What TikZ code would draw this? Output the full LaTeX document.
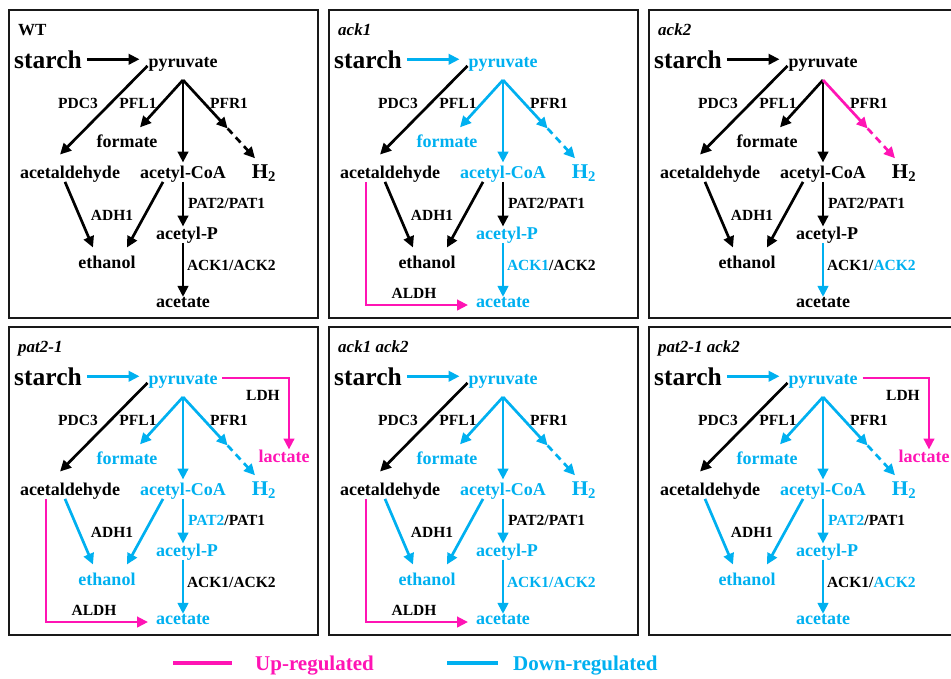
\documentclass[tikz,border=0pt]{standalone}
\usepackage{fontspec}
\setmainfont{Liberation Serif}
\usetikzlibrary{arrows.meta}
\definecolor{upc}{RGB}{255,20,180}
\definecolor{dnc}{RGB}{0,176,240}

% one strain panel: #1 prefix, #2 title, #3 main colour, #4 PFR1 colour,
% #5 ethanol side colour, #6 ACK colour, #7 PAT label, #8 ACK label
\newcommand{\pathway}[8]{%
    \draw[panelbox] (1,0) rectangle (310,308);
    \node[strain] (#1name) at (10,25) {#2};
    % Define nodes
    \node[met, font=\fontsize{25.5}{28}\selectfont\bfseries] (#1st) at (40,58) {starch};
    \node[met, color=#3] (#1pyr) at (175,57) {pyruvate};
    \coordinate (#1br) at (175,70);
    \node[met, color=#3] (#1for) at (119,137) {formate};
    \node[met] (#1ald) at (62,168) {acetaldehyde};
    \node[met, color=#3] (#1acoa) at (175,168) {acetyl-CoA};
    \node[met, color=#3, font=\fontsize{21}{23}\selectfont\bfseries] (#1hy) at (256,168) {H\textsubscript{2}};
    \node[met, color=#3] (#1acp) at (179,229) {acetyl-P};
    \node[met, color=#5] (#1eth) at (99,258) {ethanol};
    \node[met, color=#3] (#1ace) at (175,297) {acetate};
    \node[enz] (#1pdc) at (70,98) {PDC3};
    \node[enz] (#1pfl) at (130,98) {PFL1};
    \node[enz] (#1pfr) at (221,98) {PFR1};
    \node[enz] (#1adh) at (104,210) {ADH1};
    \node[enz, anchor=base west] (#1pat) at (180,198) {#7};
    \node[enz, anchor=base west] (#1ack) at (179,260) {#8};
    % Draw arrows
    \draw[rxn, color=#3, shorten <=5pt, shorten >=9pt] (#1st.east) -- (#1st.east -| #1pyr.west);
    \draw[rxn] ([xshift=-1pt,yshift=5pt]#1pyr.south west) -- ([xshift=-10pt,yshift=11pt]#1ald.north);
    \draw[rxn, color=#3] (#1br) -- ([xshift=13pt,yshift=7pt]#1for.north);
    \draw[rxn, color=#3] (#1br) -- ([yshift=3pt]#1acoa.north);
    \path (#1br) -- ([xshift=-9pt,yshift=6pt]#1hy.north) coordinate[pos=0.62] (#1mid);
    \draw[rxn, color=#4] (#1br) -- (#1mid);
    \draw[rxn, color=#4, dash pattern=on 7pt off 5pt] (#1mid) -- ([xshift=-9pt,yshift=6pt]#1hy.north);
    \draw[rxn, color=#5] ([xshift=-5pt]#1ald.south) -- ([xshift=-14pt,yshift=8pt]#1eth.north);
    \draw[rxn, color=#5] ([xshift=-20pt]#1acoa.south) -- ([xshift=20pt,yshift=8pt]#1eth.north);
    \draw[rxn, color=#5] (#1acoa.south) -- (#1acoa.south |- #1acp.north);
    \draw[rxn, color=#6] (#1acp.south -| #1acoa.south) -- (#1ace.north);
}

\begin{document}
\begin{tikzpicture}[
    x=1pt, y=-1pt,
    panelbox/.style={draw=black!90, line width=2.2pt},
    strain/.style={font=\fontsize{17}{19}\selectfont\bfseries, inner sep=0pt, anchor=base west},
    met/.style={font=\fontsize{18}{20}\selectfont\bfseries, inner sep=0pt, outer sep=0pt, anchor=base},
    enz/.style={font=\fontsize{15.5}{17}\selectfont\bfseries, inner sep=0pt, outer sep=0pt, anchor=base},
    rxn/.style={line width=2.7pt, -{Triangle[length=11pt,width=10.5pt]}},
    legline/.style={line width=3.8pt},
    legtext/.style={font=\fontsize{21}{24}\selectfont\bfseries, inner sep=0pt, anchor=base west}
]
    \useasboundingbox (0,0) rectangle (951,678);
    \clip (0,0) rectangle (951,678);

    % top row
    \begin{scope}[shift={(8,10)}]
        \pathway{a}{WT}{black}{black}{black}{black}{PAT2/PAT1}{ACK1/ACK2}
    \end{scope}
    \begin{scope}[shift={(328,10)}]
        \pathway{b}{\itshape ack1}{dnc}{dnc}{black}{dnc}{PAT2/PAT1}{\textcolor{dnc}{ACK1}/ACK2}
        \node[enz] (baldh) at (86,288) {ALDH};
        \draw[rxn, upc] ([xshift=-24pt]bald.south) |- ([xshift=-8pt,yshift=-3pt]bace.west);
    \end{scope}
    \begin{scope}[shift={(648,10)}]
        \pathway{c}{\itshape ack2}{black}{upc}{black}{dnc}{PAT2/PAT1}{ACK1/\textcolor{dnc}{ACK2}}
    \end{scope}

    % bottom row
    \begin{scope}[shift={(8,327)}]
        \pathway{d}{\itshape pat2-1}{dnc}{dnc}{dnc}{dnc}{\textcolor{dnc}{PAT2}/PAT1}{ACK1/ACK2}
        \node[enz] (daldh) at (86,288) {ALDH};
        \draw[rxn, upc] ([xshift=-24pt]dald.south) |- ([xshift=-8pt,yshift=-3pt]dace.west);
        \node[met, upc] (dlac) at (276,135) {lactate};
        \node[enz] (dldh) at (255,73) {LDH};
        \draw[rxn, upc] ([xshift=5pt,yshift=3pt]dpyr.east) -| ([xshift=5pt]dlac.north);
    \end{scope}
    \begin{scope}[shift={(328,327)}]
        \pathway{e}{\itshape ack1 ack2}{dnc}{dnc}{dnc}{dnc}{PAT2/PAT1}{\textcolor{dnc}{ACK1/ACK2}}
        \node[enz] (ealdh) at (86,288) {ALDH};
        \draw[rxn, upc] ([xshift=-24pt]eald.south) |- ([xshift=-8pt,yshift=-3pt]eace.west);
    \end{scope}
    \begin{scope}[shift={(648,327)}]
        \pathway{f}{\itshape pat2-1 ack2}{dnc}{dnc}{dnc}{dnc}{\textcolor{dnc}{PAT2}/PAT1}{ACK1/\textcolor{dnc}{ACK2}}
        \node[met, upc] (flac) at (276,135) {lactate};
        \node[enz] (fldh) at (255,73) {LDH};
        \draw[rxn, upc] ([xshift=5pt,yshift=3pt]fpyr.east) -| ([xshift=5pt]flac.north);
    \end{scope}

    % legend
    \coordinate (upa) at (173,663);
    \coordinate (upb) at (232,663);
    \draw[legline, upc] (upa) -- (upb);
    \node[legtext, upc] (uptext) at (255,670) {Up-regulated};
    \coordinate (dna) at (447,663);
    \coordinate (dnb) at (498,663);
    \draw[legline, dnc] (dna) -- (dnb);
    \node[legtext, dnc] (dntext) at (513,670) {Down-regulated};
\end{tikzpicture}
\end{document}
